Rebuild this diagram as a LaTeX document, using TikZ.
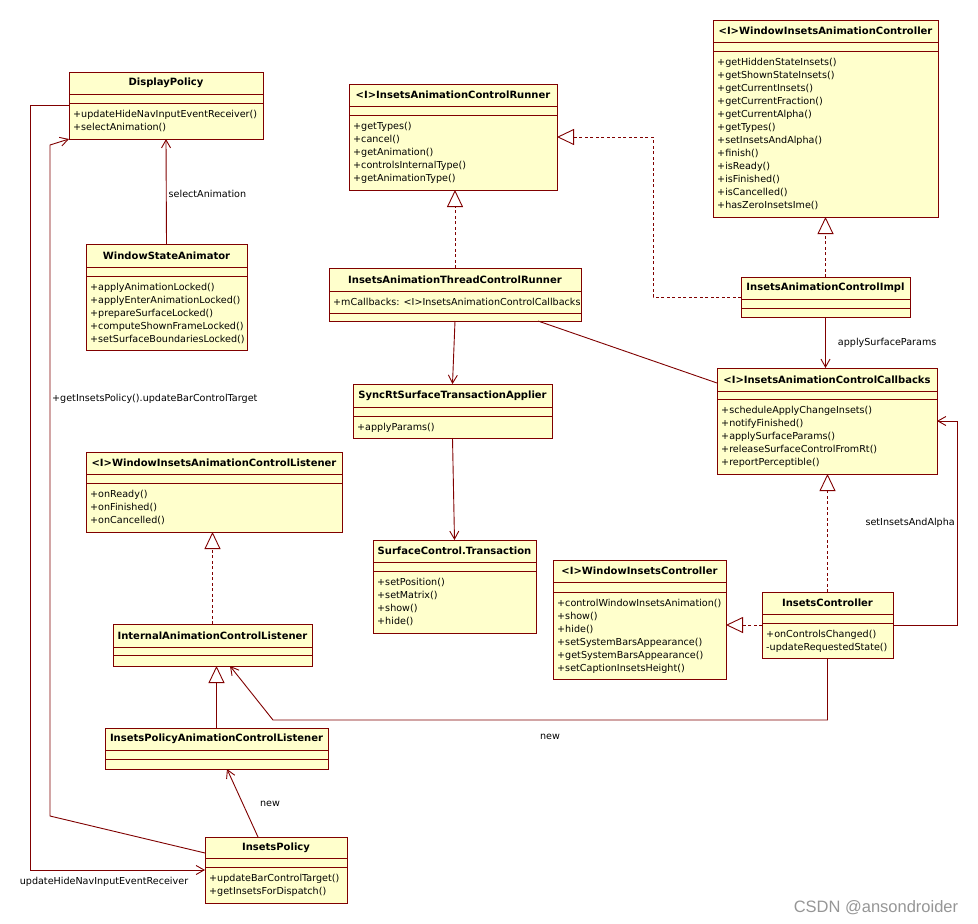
\documentclass[tikz,border=0pt]{standalone}
\usepackage{fontspec}
\setmainfont{DejaVu Sans}
\newfontfamily\wmfont{Liberation Sans}
\usetikzlibrary{arrows.meta}
\definecolor{umlline}{RGB}{128,0,0}
\definecolor{umlfill}{RGB}{255,255,204}
\definecolor{wmgray}{RGB}{150,150,150}
\tikzset{
 cls/.style={draw=umlline, fill=umlfill, line width=0.9pt, rectangle, inner sep=0pt, outer sep=0pt},
 sepline/.style={draw=umlline, line width=0.9pt},
 ttl/.style={font=\fontsize{10}{12}\selectfont\bfseries, inner sep=0pt},
 mth/.style={font=\fontsize{9.6}{13}\selectfont, align=left, inner sep=0pt, anchor=north west},
 lbl/.style={font=\fontsize{9.6}{13}\selectfont, inner sep=0pt},
 assoc/.style={draw=umlline, line width=0.9pt, -{Straight Barb[length=8pt,width=9pt,line width=0.9pt]}},
 plainline/.style={draw=umlline, line width=0.9pt},
 realize/.style={draw=umlline, line width=0.9pt, dash pattern=on 3pt off 2.5pt, -{Triangle[open, length=17pt, width=16pt, fill=white, line width=0.9pt]}},
 general/.style={draw=umlline, line width=0.9pt, -{Triangle[open, length=17pt, width=16pt, fill=white, line width=0.9pt]}},
}
% name, x1, y1, x2, y2, sep1, sep2, title
\newcommand\umlbox[8]{%
  \node[cls, minimum width={#4-#2}, minimum height={#5-#3}] (#1) at ({(#2+#4)/2},{(#3+#5)/2}) {};
  \draw[sepline] (#2,#6) -- (#4,#6) (#2,#7) -- (#4,#7);
  \node[ttl] (#1-title) at ({(#2+#4)/2},{(#3+#6)/2}) {#8};
}
\begin{document}
\begin{tikzpicture}[x=1pt,y=-1pt]
\fill[white] (0,0) rectangle (978,924);
\useasboundingbox (0,0) rectangle (978,924);

% classes
\umlbox{dp}{69}{72}{263}{139}{94}{103}{DisplayPolicy}
\node[mth] (dp-ops) at (73,110) {+updateHideNavInputEventReceiver()\\+selectAnimation()};

\umlbox{wsa}{86}{244}{247}{350}{267}{276}{WindowStateAnimator}
\node[mth] (wsa-ops) at (90,283) {+applyAnimationLocked()\\+applyEnterAnimationLocked()\\+prepareSurfaceLocked()\\+computeShownFrameLocked()\\+setSurfaceBoundariesLocked()};

\umlbox{runner}{349}{84}{557}{190}{106}{115}{<I>InsetsAnimationControlRunner}
\node[mth] (runner-ops) at (353,122) {+getTypes()\\+cancel()\\+getAnimation()\\+controlsInternalType()\\+getAnimationType()};

\umlbox{thr}{329}{268}{581}{321}{291}{313}{InsetsAnimationThreadControlRunner}
\node[mth] (thr-attr) at (333,298) {+mCallbacks: <I>InsetsAnimationControlCallbacks};

\umlbox{wiac}{713}{20}{938}{217}{42}{51}{<I>WindowInsetsAnimationController}
\node[mth] (wiac-ops) at (717,58) {+getHiddenStateInsets()\\+getShownStateInsets()\\+getCurrentInsets()\\+getCurrentFraction()\\+getCurrentAlpha()\\+getTypes()\\+setInsetsAndAlpha()\\+finish()\\+isReady()\\+isFinished()\\+isCancelled()\\+hasZeroInsetsIme()};

\umlbox{impl}{741}{277}{910}{317}{299}{308}{InsetsAnimationControlImpl}

\umlbox{cb}{717}{368}{937}{474}{391}{399}{<I>InsetsAnimationControlCallbacks}
\node[mth] (cb-ops) at (721,406) {+scheduleApplyChangeInsets()\\+notifyFinished()\\+applySurfaceParams()\\+releaseSurfaceControlFromRt()\\+reportPerceptible()};

\umlbox{sync}{353}{384}{552}{438}{407}{416}{SyncRtSurfaceTransactionApplier}
\node[mth] (sync-ops) at (357,423) {+applyParams()};

\umlbox{sct}{373}{540}{536}{633}{562}{571}{SurfaceControl.Transaction}
\node[mth] (sct-ops) at (377,578) {+setPosition()\\+setMatrix()\\+show()\\+hide()};

\umlbox{wic}{553}{560}{726}{679}{582}{592}{<I>WindowInsetsController}
\node[mth] (wic-ops) at (557,599) {+controlWindowInsetsAnimation()\\+show()\\+hide()\\+setSystemBarsAppearance()\\+getSystemBarsAppearance()\\+setCaptionInsetsHeight()};

\umlbox{ic}{762}{592}{893}{658}{614}{623}{InsetsController}
\node[mth] (ic-ops) at (766,630) {+onControlsChanged()\\-updateRequestedState()};

\umlbox{wiacl}{86}{452}{342}{532}{474}{483}{<I>WindowInsetsAnimationControlListener}
\node[mth] (wiacl-ops) at (90,490) {+onReady()\\+onFinished()\\+onCancelled()};

\umlbox{ial}{113}{624}{312}{666}{647}{655}{InternalAnimationControlListener}

\umlbox{ipacl}{105}{728}{328}{769}{750}{759}{InsetsPolicyAnimationControlListener}

\umlbox{ip}{205}{837}{347}{903}{858}{867}{InsetsPolicy}
\node[mth] (ip-ops) at (209,874) {+updateBarControlTarget()\\+getInsetsForDispatch()};

% connectors
\draw[assoc] (wsa.north) -- node[lbl, anchor=west, pos=0.476, xshift=2pt] (l-sel) {selectAnimation} (dp.south);

\draw[assoc] (dp.west) -- ++(-39,0) |- (ip.west);
\node[lbl] (l-uh) at (104,882) {updateHideNavInputEventReceiver};

\draw[assoc] ([yshift=17pt]ip.west) -- (50,816) -- (50,145) -- (dp.south west);
\node[lbl, anchor=west] (l-gip) at (52,399) {+getInsetsPolicy().updateBarControlTarget};

\draw[realize] (thr.north) -- (thr.north |- runner.south);
\draw[realize] (impl.west) -- ++(-88,0) |- (runner.east);
\draw[realize] (impl.north) -- (impl.north |- wiac.south);
\draw[assoc] (impl.south) -- node[lbl, anchor=west, pos=0.5, xshift=12pt] (l-asp) {applySurfaceParams} (impl.south |- cb.north);
\draw[plainline] ([xshift=83pt]thr.south) -- ([yshift=38pt]cb.west);
\draw[assoc] (thr.south) -- (sync.north);
\draw[assoc] (sync.south) -- (sct.north);
\draw[realize] (ic.north) -- (ic.north |- cb.south);
\draw[assoc] (ic.east) -- ++(64,0) |- (cb.east);
\node[lbl, anchor=east] (l-sia) at (955,523) {setInsetsAndAlpha};
\draw[realize] (ic.west) -- (ic.west -| wic.east);
\draw[assoc] (ic.south) -- ++(0,62) -- (273,720) -- ([xshift=17.5pt]ial.south);
\node[lbl] (l-new1) at (550,737) {new};
\draw[general] (ipacl.north) -- (ipacl.north |- ial.south);
\draw[realize] (ial.north) -- (ial.north |- wiacl.south);
\draw[assoc] ([xshift=-18pt]ip.north) -- ([xshift=10.5pt]ipacl.south);
\node[lbl] (l-new2) at (270,804) {new};

\node[font=\wmfont\fontsize{16.5}{18}\selectfont, text=wmgray, inner sep=0pt] (wm) at (876,908) {CSDN @ansondroider};
\end{tikzpicture}
\end{document}
